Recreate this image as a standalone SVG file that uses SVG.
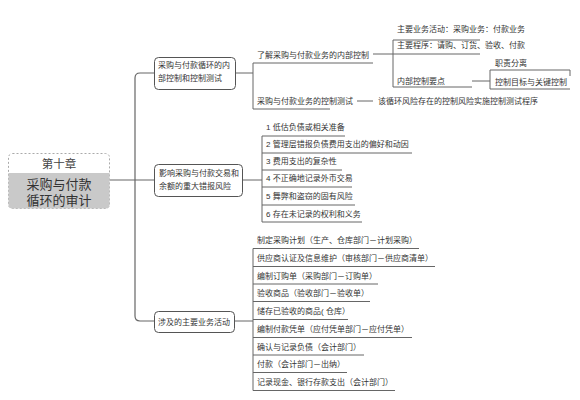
<svg xmlns="http://www.w3.org/2000/svg" width="580" height="400" viewBox="0 0 580 400">
<style>
text{font-family:"Liberation Sans","Noto Sans CJK SC",sans-serif;font-size:8px;fill:#333}
.ln{fill:none;stroke:#666;stroke-width:1}
.tr{fill:none;stroke:#666;stroke-width:1.2}
.box{fill:#fff;stroke:#555;stroke-width:1}
.root{font-size:13px;fill:#333}
</style>
<rect width="580" height="400" fill="#fff"/>
<g id="connectors">
<path class="tr" d="M154,73 H140 Q135,73 135,78 V316 Q135,321 140,321 H154 M109,180 H154"/>
<path class="ln" d="M235,73 H253 M253,63 V109 M253,63 H373 M253,109 H330 M357,101 H373 M373,54 H393 M393,40 V87 M393,40 H480 M393,54 H480 M393,87 H472 M472,81 H490 M490,70 V89 M490,70 H570 V76 M490,89 H570"/>
<path class="ln" d="M242,180 H262 M262,136 V222 M262,136 H345 M262,153 H412 M262,170 H342 M262,187 H352 M262,205 H355 M262,222 H362"/>
<path class="ln" d="M234,321 H253 M253,248.5 V390.5 M253,248.5 H419 M253,266.5 H435 M253,284 H378 M253,301.5 H370 M253,319.5 H348 M253,337.5 H412 M253,355 H364 M253,372.5 H347 M253,390.5 H395"/>
</g>
<g id="root">
<rect x="8.5" y="153.5" width="101" height="55" rx="4" fill="#fff" stroke="#aaa" stroke-dasharray="2,2"/>
<path d="M8.5,173 H109.5 V204.5 Q109.5,208.5 105.5,208.5 H12.5 Q8.5,208.5 8.5,204.5 Z" fill="#c9c9c9"/>
<text x="59" y="168" text-anchor="middle" style="font-size:11.5px;fill:#444">第十章</text>
<text class="root" x="59" y="189" text-anchor="middle">采购与付款</text>
<text class="root" x="59" y="205" text-anchor="middle">循环的审计</text>
</g>
<g id="n1">
<rect class="box" x="154.5" y="57.5" width="81" height="32" rx="4"/>
<text x="158" y="68">采购与付款循环的内</text>
<text x="158" y="81">部控制和控制测试</text>
</g>
<g id="n1a"><text x="257" y="58">了解采购与付款业务的内部控制</text></g>
<g id="n1a1"><text x="397" y="32">主要业务活动：采购业务：付款业务</text></g>
<g id="n1a2"><text x="397" y="48">主要程序：请购、订货、验收、付款</text></g>
<g id="n1a3"><text x="397" y="84">内部控制要点</text></g>
<g id="n1a3a"><text x="495" y="66">职责分离</text></g>
<g id="n1a3b"><text x="495" y="85">控制目标与关键控制</text></g>
<g id="n1b"><text x="257" y="104">采购与付款业务的控制测试</text></g>
<g id="n1b1"><text x="378" y="104">该循环风险存在的控制风险实施控制测试程序</text></g>
<g id="n2">
<rect class="box" x="154.5" y="164.5" width="88" height="32" rx="4"/>
<text x="159" y="176">影响采购与付款交易和</text>
<text x="159" y="189">余额的重大错报风险</text>
</g>
<g id="n2a"><text x="266" y="130">1 低估负债或相关准备</text></g>
<g id="n2b"><text x="266" y="147">2 管理层错报负债费用支出的偏好和动因</text></g>
<g id="n2c"><text x="266" y="164">3 费用支出的复杂性</text></g>
<g id="n2d"><text x="266" y="181">4 不正确地记录外币交易</text></g>
<g id="n2e"><text x="266" y="199">5 舞弊和盗窃的固有风险</text></g>
<g id="n2f"><text x="266" y="217">6 存在未记录的权利和义务</text></g>
<g id="n3">
<rect class="box" x="154.5" y="311.5" width="80" height="21" rx="4"/>
<text x="158" y="324.5">涉及的主要业务活动</text>
</g>
<g id="n3a"><text x="257" y="243">制定采购计划（生产、仓库部门－计划采购）</text></g>
<g id="n3b"><text x="257" y="261">供应商认证及信息维护（审核部门－供应商清单）</text></g>
<g id="n3c"><text x="257" y="278.5">编制订购单（采购部门－订购单）</text></g>
<g id="n3d"><text x="257" y="296">验收商品（验收部门－验收单）</text></g>
<g id="n3e"><text x="257" y="314">储存已验收的商品( 仓库）</text></g>
<g id="n3f"><text x="257" y="332">编制付款凭单（应付凭单部门－应付凭单）</text></g>
<g id="n3g"><text x="257" y="349.5">确认与记录负债（会计部门）</text></g>
<g id="n3h"><text x="257" y="367">付款（会计部门－出纳）</text></g>
<g id="n3i"><text x="257" y="385">记录现金、银行存款支出（会计部门）</text></g>
</svg>
